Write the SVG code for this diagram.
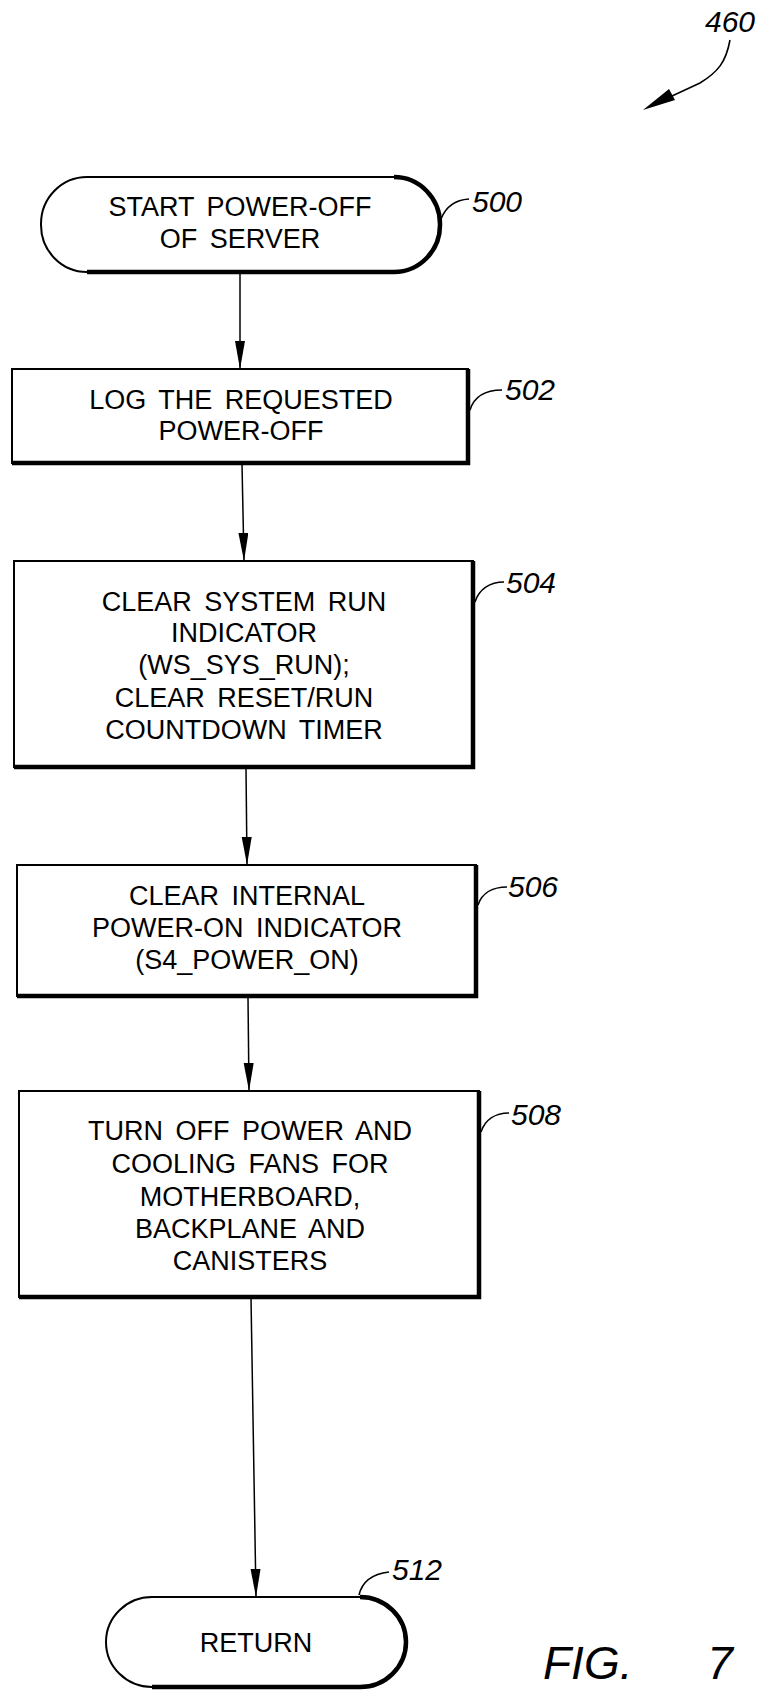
<svg xmlns="http://www.w3.org/2000/svg" width="760" height="1691" viewBox="0 0 760 1691">
<defs>
<style>
.t{font-family:"Liberation Sans",Arial,sans-serif;font-size:27px;fill:#000;text-anchor:middle;word-spacing:5px}
.lbl{font-family:"Liberation Sans",Arial,sans-serif;font-size:30px;font-style:italic;fill:#000}
.thin{fill:none;stroke:#000;stroke-width:2}
.thick{fill:none;stroke:#000;stroke-width:4.5}
.ld{fill:none;stroke:#000;stroke-width:1.6}
.cn{fill:none;stroke:#000;stroke-width:1.5}
</style>
<marker id="ah" markerUnits="userSpaceOnUse" markerWidth="30" markerHeight="12" refX="28" refY="5" orient="auto">
<path d="M0,0 L28,5 L0,10 Z" fill="#000"/>
</marker>
</defs>
<rect width="760" height="1691" fill="#fff"/>

<g id="ref460">
<text class="lbl" x="705" y="32">460</text>
<path class="ld" d="M730,40 C726,62 718,72 700,83 L672,96"/>
<polygon points="643,110 675,100 669,89" fill="#000"/>
</g>

<g id="connectors">
<line class="cn" x1="240" y1="272" x2="240" y2="369" marker-end="url(#ah)"/>
<line class="cn" x1="242" y1="464" x2="244" y2="561" marker-end="url(#ah)"/>
<line class="cn" x1="246" y1="768" x2="247" y2="865" marker-end="url(#ah)"/>
<line class="cn" x1="248" y1="997" x2="249" y2="1091" marker-end="url(#ah)"/>
<line class="cn" x1="251" y1="1298" x2="256" y2="1597" marker-end="url(#ah)"/>
</g>

<g id="n500">
<rect class="thin" x="41" y="177" width="399" height="95" rx="46" ry="47"/>
<path class="thick" d="M394,177 A46,47 0 0 1 440,224.5 A46,47 0 0 1 394,272 L87,272"/>
<text class="t" x="240" y="216">START POWER-OFF</text>
<text class="t" x="240" y="248">OF SERVER</text>
<path class="ld" d="M441,219 C446,206 455,200 469,199"/>
<text class="lbl" x="472" y="212">500</text>
</g>

<g id="n502">
<rect class="thin" x="12" y="369" width="456" height="94"/>
<path class="thick" d="M468,369 L468,463 L12,463"/>
<text class="t" x="241" y="409">LOG THE REQUESTED</text>
<text class="t" x="241" y="440">POWER-OFF</text>
<path class="ld" d="M470,410 C474,397 485,390 502,390"/>
<text class="lbl" x="505" y="400">502</text>
</g>

<g id="n504">
<rect class="thin" x="14" y="561" width="459" height="206"/>
<path class="thick" d="M473,561 L473,767 L14,767"/>
<text class="t" x="244" y="611">CLEAR SYSTEM RUN</text>
<text class="t" x="244" y="642">INDICATOR</text>
<text class="t" x="244" y="674">(WS_SYS_RUN);</text>
<text class="t" x="244" y="707">CLEAR RESET/RUN</text>
<text class="t" x="244" y="739">COUNTDOWN TIMER</text>
<path class="ld" d="M475,602 C479,589 490,582 504,582"/>
<text class="lbl" x="506" y="593">504</text>
</g>

<g id="n506">
<rect class="thin" x="17" y="865" width="459" height="131"/>
<path class="thick" d="M476,865 L476,996 L17,996"/>
<text class="t" x="247" y="905">CLEAR INTERNAL</text>
<text class="t" x="247" y="937">POWER-ON INDICATOR</text>
<text class="t" x="247" y="969">(S4_POWER_ON)</text>
<path class="ld" d="M478,905 C482,893 493,887 507,887"/>
<text class="lbl" x="508" y="897">506</text>
</g>

<g id="n508">
<rect class="thin" x="19" y="1091" width="460" height="206"/>
<path class="thick" d="M479,1091 L479,1297 L19,1297"/>
<text class="t" x="250" y="1140">TURN OFF POWER AND</text>
<text class="t" x="250" y="1173">COOLING FANS FOR</text>
<text class="t" x="250" y="1206">MOTHERBOARD,</text>
<text class="t" x="250" y="1238">BACKPLANE AND</text>
<text class="t" x="250" y="1270">CANISTERS</text>
<path class="ld" d="M481,1132 C485,1120 495,1113 509,1113"/>
<text class="lbl" x="511" y="1125">508</text>
</g>

<g id="n512">
<rect class="thin" x="106" y="1597" width="300" height="90" rx="46" ry="45"/>
<path class="thick" d="M360,1597 A46,45 0 0 1 406,1642 A46,45 0 0 1 360,1687 L152,1687"/>
<text class="t" x="256" y="1652">RETURN</text>
<path class="ld" d="M359,1595 C362,1582 372,1574 389,1572"/>
<text class="lbl" x="392" y="1580">512</text>
</g>

<g id="figlabel">
<text x="543" y="1679" style="font-family:'Liberation Sans',Arial,sans-serif;font-size:46px;font-style:italic;word-spacing:62px" fill="#000">FIG. 7</text>
</g>
</svg>
